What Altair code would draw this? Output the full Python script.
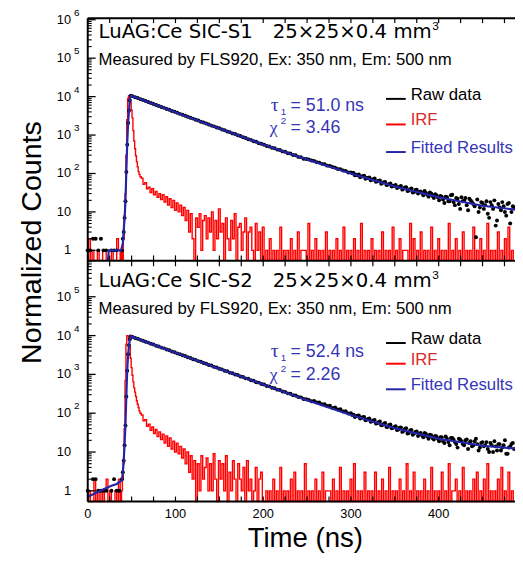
import altair as alt
import pandas as pd

FONT = "Liberation Sans"
WIDE = "DejaVu Sans"
SERIF = "Liberation Serif"
RED = "#ff0000"
BLUE = "#2424a8"
BLUE_TXT = "#3535b8"
RED_TXT = "#d92b2b"

# ---------------- data ----------------
# ---- Panel S1 ----
fit1_t = [23, 24, 38, 40, 41, 42, 43, 44, 45, 46, 47, 48, 49, 75, 100, 150, 200, 250, 300, 350, 400, 450, 487]
fit1_v = [0.4, 1.0, 1.0, 1.5, 3.3, 7, 19, 120, 600, 2000, 4300, 8000, 10700, 6430, 3940, 1490, 565, 230, 100, 46, 24, 14.5, 11.5]

raw1_pre = [1, 1, 2, 2, 1, 2, 1, 1, 0, 1, 1, 1, 0, 1]                 # t = 0,3,...,39
raw1_rise = [2, 3, 7, 19, 110, 560, 2050, 4300, 7900, 10600]          # t = 40..49
raw1_decay = [                                                        # t = 51,54,...,486
    10300, 9680, 9170, 8600, 8150, 7650, 7250, 6800, 6450, 6050, 5730, 5360, 5100, 4770, 4540, 4240, 4030,
    3800, 3560, 3380, 3170, 3010, 2820, 2680, 2510, 2390, 2230, 2120, 1990, 1890, 1760, 1680, 1570, 1500,
    1400, 1335, 1240, 1190, 1105, 1060, 985, 945, 875, 840, 778, 750, 690, 668, 615, 594,
    562, 520, 505, 466, 455, 418, 410, 376, 368, 338, 330, 302, 297, 270, 266, 243, 239,
    232, 217, 212, 196, 192, 178, 174, 160, 158, 147, 142, 131, 130, 119, 117, 106, 107,
    103, 93, 94, 84, 88, 76, 79, 70, 74, 63, 66, 57, 60, 51, 55, 48,
    50, 44, 47, 40, 44, 36, 41, 33, 38, 33, 31, 35, 28, 32, 26, 29, 24,
    26, 21, 25, 19, 27, 18, 23, 16, 24, 20, 15, 22, 18, 14, 21, 13, 17,
    15, 9, 18, 12, 4.4, 16, 11, 14, 8, 17, 10, 13]
raw1_extra = [                                                        # t = 301.5,304.5,...,484.5
    101, 90, 90, 80, 85, 73, 77, 67, 70, 61, 64, 54, 59, 50, 53, 46,
    48, 42, 45, 38, 43, 35, 39, 32, 37, 30, 34, 27, 31, 25, 30, 23, 27,
    20, 25, 17, 24, 19, 28, 15, 22, 12, 19, 23, 11, 20, 16, 2.2, 10, 18,
    12, 19, 7, 15, 20, 6, 13, 18, 10, 16, 5, 14]

irf1_pre = [0, 2, 0, 1, 0, 0, 1, 0, 0, 1, 1, 0, 0, 0, 1, 0, 0, 2, 1, 0]   # t = 0,2,...,38
irf1_peak = [1, 0, 2, 8, 30, 300, 2500, 9000, 10600, 9500, 7000, 4500, 2800, 1300,
             700, 440, 290, 200, 150, 112, 95, 82]                        # t = 39..60
irf1_tail = [                                                              # t = 62,64,...,486
    75, 52, 58, 40, 44, 32, 40, 28, 34, 24, 30, 21, 28, 18, 25, 15, 22, 13, 20, 11,
    17, 10, 15, 8, 13, 6, 11, 3, 9, 2, 0, 7, 4, 9, 1, 6, 8, 2, 7, 3,
    10, 1, 6, 2, 12, 3, 5, 0, 7, 2, 1, 6, 2, 9, 0, 4, 5, 1, 3, 7,
    0, 3, 4, 1, 0, 5, 1, 3, 0, 4,
    0, 1, 0, 2, 0, 1, 0, 1, 0, 4, 0, 1, 0, 1, 0, 2, 0, 1, 0, 3, 0, 1, 1, 1, 0, 5, 0, 1, 0, 2,
    0, 1, 0, 1, 0, 3, 0, 1, 0, 1, 0, 2, 0, 1, 0, 4, 0, 1, 0, 1, 0, 2, 0, 1, 0, 5, 0, 1, 0, 1,
    0, 2, 0, 1, 0, 1, 0, 3, 0, 1, 0, 1, 0, 4, 0, 1, 0, 2, 0, 1, 1, 1, 0, 5, 0, 2, 0, 1, 0, 3,
    0, 1, 0, 1, 0, 4, 0, 1, 0, 2, 0, 1, 0, 1, 0, 5, 0, 1, 0, 2, 0, 1, 0, 3, 0, 1, 0, 1, 0, 4,
    0, 1, 0, 2, 0, 1, 0, 5, 0, 1, 0, 1, 0, 3, 0, 1, 0, 2, 0, 4, 0, 1, 0]

# ---- Panel S2 ----
fit2_t = [0, 8, 18, 27, 33, 38, 39, 40, 41, 42, 43, 44, 45, 46, 47, 48, 49,
          75, 100, 150, 200, 250, 300, 350, 400, 450, 487]
fit2_v = [0.7, 0.85, 1.1, 1.35, 1.5, 1.8, 1.9, 3, 6, 16, 50, 280, 1300, 3200, 5500, 8000, 9600,
          5856, 3636, 1407, 548, 217, 90, 41, 22, 14.5, 12.3]

raw2_pre = [1, 0, 2, 2, 1, 1, 1, 1, 0, 1, 2, 1, 1, 2]
raw2_rise = [3, 6, 15, 48, 270, 1250, 3300, 5600, 8100, 9500]
raw2_decay = [
    9270, 8710, 8280, 7760, 7390, 6920, 6590, 6170, 5890, 5500, 5250, 4900, 4690, 4370, 4180, 3900, 3730,
    3480, 3330, 3100, 2970, 2770, 2650, 2470, 2370, 2200, 2120, 1960, 1890, 1750, 1690, 1560, 1510, 1400,
    1345, 1245, 1200, 1110, 1075, 990, 960, 885, 860, 790, 770, 705, 690, 630, 615, 565,
    550, 505, 492, 452, 442, 405, 396, 362, 354, 325, 318, 290, 285, 262, 256, 233, 228,
    219, 203, 207, 190, 189, 170, 171, 153, 155, 137, 140, 124, 126, 111, 113, 98, 100,
    92, 84, 87, 76, 80, 68, 73, 62, 67, 55, 61, 50, 56, 45, 51, 42,
    46, 38, 43, 35, 41, 31, 37, 30, 34, 29, 27, 31, 25, 28, 23, 26, 22,
    24, 19, 25, 18, 23, 21, 16, 22, 19, 15, 21, 17, 14, 19, 16, 13, 18,
    15, 12, 17, 10, 14, 16, 11, 15, 9, 13, 16, 12]
raw2_extra = [
    90, 80, 86, 73, 79, 66, 71, 60, 65, 54, 59, 49, 54, 44, 50, 41,
    44, 37, 42, 33, 39, 30, 36, 28, 33, 26, 31, 24, 29, 22, 27, 21, 25,
    19, 24, 17, 22, 15, 23, 18, 13, 21, 16, 20, 12, 19, 15, 22, 11, 17,
    14, 18, 10, 15, 19, 11, 16, 13, 20, 9, 14, 17]

irf2_pre = [0, 1, 0, 0, 2, 0, 1, 0, 1, 0, 1, 2, 0, 1, 0, 0, 1, 0, 2, 0]
irf2_peak = [1, 2, 5, 40, 700, 6000, 10000, 9800, 8000, 5000, 2600, 1500, 950, 640,
             450, 350, 270, 210, 170, 140, 115, 100]
irf2_tail = [
    90, 64, 68, 46, 52, 36, 44, 30, 38, 25, 33, 21, 29, 17, 26, 14, 23, 12, 19, 10,
    17, 9, 14, 7, 12, 5, 10, 3, 8, 2, 6, 0, 5, 1, 8, 2, 4, 7, 1, 5,
    1, 9, 2, 0, 6, 2, 5, 1, 8, 0, 3, 1, 6, 2, 0, 5, 2, 1, 4, 0,
    6, 1, 2, 0, 1, 4, 0, 2, 3, 0,
    0, 1, 0, 1, 0, 2, 0, 1, 0, 4, 0, 1, 0, 1, 0, 2, 0, 3, 0, 1, 0, 1, 0, 5, 0, 1, 0, 1, 0, 2,
    0, 1, 0, 3, 0, 1, 1, 1, 0, 2, 0, 1, 0, 4, 0, 1, 0, 1, 0, 2, 0, 5, 0, 1, 0, 1, 0, 3, 0, 1,
    0, 1, 0, 3, 0, 1, 0, 2, 0, 1, 0, 4, 0, 1, 0, 1, 0, 2, 0, 1, 0, 5, 0, 1, 0, 3, 0, 1, 0, 1,
    0, 2, 0, 1, 0, 4, 0, 1, 0, 1, 0, 3, 0, 1, 0, 5, 0, 1, 1, 2, 0, 1, 0, 4, 0, 1, 0, 1, 0, 2,
    0, 3, 0, 1, 0, 2, 0, 5, 0, 1, 0, 1, 0, 2, 0, 4, 0, 1, 0, 3, 0, 1, 0]

# axes
x_ticks = list(range(0, 476, 25))
x_labels = [0, 100, 200, 300, 400]
decades = [1, 10, 100, 1000, 10000, 100000, 1000000]
dec_base = ["1", "10", "10", "10", "10", "10", "10"]
dec_exp = ["", "", "2", "3", "4", "5", "6"]

# ---------------- build tables ----------------
raw_t = list(range(0, 40, 3)) + list(range(40, 50)) + list(range(51, 487, 3))
extra_t = [301.5 + 3 * k for k in range(62)]
irf_t = list(range(0, 40, 2)) + list(range(39, 61)) + list(range(62, 487, 2))


def line_df(t, v):
    assert len(t) == len(v), (len(t), len(v))
    d = pd.DataFrame({"t": t, "v": [float(x) for x in v]})
    d.loc[d.v <= 0, "v"] = 0.1  # zero counts sit on the panel floor
    return d


def pts_df(t, v):
    assert len(t) == len(v), (len(t), len(v))
    d = pd.DataFrame({"t": t, "v": [float(x) for x in v]})
    return d[d.v > 0]


W, H, HB = 434, 491, 246
x_sc = alt.Scale(domain=[0, 487], nice=False, zero=False)
y1_sc = alt.Scale(type="log", domain=[0.55, 1.1e6], range=[HB, 0], clamp=True, nice=False)
y2_sc = alt.Scale(type="log", domain=[0.53, 8.2e5], range=[H, HB + 1], clamp=True, nice=False)


def X():
    return alt.X("t:Q", scale=x_sc, axis=None)


def Y(sc):
    return alt.Y("v:Q", scale=sc, axis=None)


def panel(sc, fit_t, fit_v, pre, rise, decay, extra, ipre, ipeak, itail):
    irf = alt.Chart(line_df(irf_t, ipre + ipeak + itail)).mark_line(
        color=RED, strokeWidth=1.4, interpolate="step").encode(x=X(), y=Y(sc))
    rawdf = pd.concat([pts_df(raw_t, pre + rise + decay), pts_df(extra_t, extra)])
    raw = alt.Chart(rawdf).mark_circle(
        color="black", size=16, opacity=1).encode(x=X(), y=Y(sc))
    fit = alt.Chart(line_df(fit_t, fit_v)).mark_line(
        color=BLUE, strokeWidth=2.2).encode(x=X(), y=Y(sc))
    lo, hi = sc.domain
    minors = [m * 10 ** e for e in range(0, 7) for m in range(2, 10) if lo < m * 10 ** e < hi]
    majors = [d for d in decades if lo < d < hi]
    tmin = alt.Chart(pd.DataFrame({"v": minors})).mark_rule(color="black", strokeWidth=1.1).encode(
        y=Y(sc), x=alt.value(0), x2=alt.value(4))
    tmaj = alt.Chart(pd.DataFrame({"v": majors})).mark_rule(color="black", strokeWidth=1.3).encode(
        y=Y(sc), x=alt.value(0), x2=alt.value(8))
    n = len(majors)
    lab = pd.DataFrame({"v": majors, "b": dec_base[:n], "e": dec_exp[:n]})
    lb = alt.Chart(lab).mark_text(align="right", baseline="middle", fontSize=13, font=FONT,
                                  color="black").encode(y=Y(sc), x=alt.value(-17), text="b:N")
    le = alt.Chart(lab[lab.e != ""]).mark_text(align="left", baseline="middle", fontSize=10, font=FONT,
                                               dy=-7, color="black").encode(y=Y(sc), x=alt.value(-14), text="e:N")
    return alt.layer(irf, raw, fit, tmin, tmaj, lb, le)


p1 = panel(y1_sc, fit1_t, fit1_v, raw1_pre, raw1_rise, raw1_decay, raw1_extra, irf1_pre, irf1_peak, irf1_tail)
p2 = panel(y2_sc, fit2_t, fit2_v, raw2_pre, raw2_rise, raw2_decay, raw2_extra, irf2_pre, irf2_peak, irf2_tail)

one = pd.DataFrame({"a": [0]})


def txt(s, x, y, size, color="black", font=FONT, angle=0, align="left"):
    kw = dict(text=s, align=align, baseline="alphabetic", fontSize=size, color=color, font=font)
    if angle:
        kw["angle"] = angle
    return alt.Chart(one).mark_text(**kw).encode(x=alt.value(x), y=alt.value(y))


def hrule(x1, x2, y, color="black", w=2):
    return alt.Chart(one).mark_rule(color=color, strokeWidth=w).encode(
        x=alt.value(x1), x2=alt.value(x2), y=alt.value(y))


def vrule(x, y1, y2, w=2):
    return alt.Chart(one).mark_rule(color="black", strokeWidth=w).encode(
        x=alt.value(x), y=alt.value(y1), y2=alt.value(y2))


frames = [vrule(0, 0, H), hrule(0, W, 0), hrule(0, W, HB + 0.5), hrule(0, W, H)]

xt = pd.DataFrame({"t": x_ticks})
xtick_layers = [
    alt.Chart(xt).mark_rule(color="black", strokeWidth=1.2).encode(x=X(), y=alt.value(0), y2=alt.value(5)),
    alt.Chart(xt).mark_rule(color="black", strokeWidth=1.2).encode(x=X(), y=alt.value(HB - 5), y2=alt.value(HB + 6)),
    alt.Chart(xt).mark_rule(color="black", strokeWidth=1.2).encode(x=X(), y=alt.value(H - 5), y2=alt.value(H)),
    alt.Chart(pd.DataFrame({"t": x_labels})).mark_text(
        align="center", baseline="alphabetic", fontSize=13, font=FONT, color="black").encode(
        x=X(), y=alt.value(508), text="t:Q"),
]


def annotations(dy, name, tau, chi, leg):
    out = [
        txt(name, 11, 20 + dy, 20, font=WIDE),
        txt("25×25×0.4 mm", 188, 20 + dy, 20, font=WIDE),
        txt("3", 350, 12 + dy, 12),
        txt("Measured by FLS920, Ex: 350 nm, Em: 500 nm", 11, 48 + dy, 17),
        txt("τ", 186, tau[0], 20, BLUE_TXT, SERIF),
        txt("1", 196, tau[0] + 4, 10, BLUE_TXT),
        txt("= " + tau[1], 206, tau[0], 18, BLUE_TXT),
        txt("χ", 185, chi[0], 18, BLUE_TXT, SERIF),
        txt("2", 196, chi[0] - 9, 10, BLUE_TXT),
        txt("= " + chi[1], 206, chi[0], 18, BLUE_TXT),
        hrule(303, 323, leg[0] - 1, "black", 2),
        hrule(303, 323, leg[1] - 1, RED, 2),
        hrule(303, 323, leg[2] - 1, BLUE, 2),
        txt("Raw data", 328, leg[0], 17, "black"),
        txt("IRF", 328, leg[1], 17, RED_TXT),
        txt("Fitted Results", 328, leg[2], 17, BLUE_TXT),
    ]
    return out


ann1 = annotations(0, "LuAG:Ce SIC-S1", (94, "51.0 ns"), (117, "3.46"), (83, 109, 137))
ann2 = annotations(253, "LuAG:Ce SIC-S2", (344, "52.4 ns"), (368, "2.26"), (331, 352, 378))

titles = [
    txt("Normalized Counts", -47, 228, 29, angle=270, align="center"),
    txt("Time (ns)", 221, 537, 28, align="center"),
]

chart = alt.layer(p1, p2, *frames, *xtick_layers, *ann1, *ann2, *titles).resolve_scale(
    y="independent"
).properties(
    width=W, height=H,
    autosize=alt.AutoSizeParams(type="none"),
    padding={"left": 81, "top": 6, "right": 0, "bottom": 50},
    background="white",
).configure_view(stroke=None)

chart.save("out.html", embed_options={"renderer": "svg", "actions": False})
